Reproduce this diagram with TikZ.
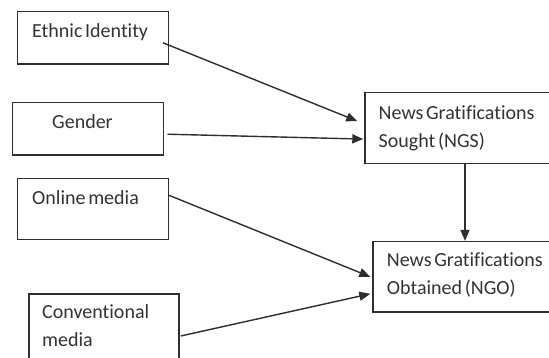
\documentclass[tikz,border=0pt]{standalone}
\usepackage{fontspec}
\setmainfont{Carlito}[WordSpace=0.6, Ligatures=NoCommon]
\usetikzlibrary{arrows.meta}
\definecolor{inkgray}{HTML}{2E2E2E}
\definecolor{textgray}{HTML}{333333}

\begin{document}
\begin{tikzpicture}[x=1pt,y=-1pt,
  box/.style={draw=inkgray, line width=1.4pt, inner sep=0pt},
  lbl/.style={text=textgray, inner sep=0pt, anchor=base west,
    font=\fontsize{20}{28}\selectfont},
  link/.style={draw=inkgray, line width=1.4pt,
    -{Triangle[length=11pt,width=9pt]}}]
  % Frame
  \useasboundingbox (0,0) rectangle (549,357);
  \clip (0,0) rectangle (549,357);

  % Boxes on the left
  \node[box, minimum width=151pt, minimum height=52.3pt] (ethnic) at (92.8,37.8) {};
  \node[box, minimum width=151pt, minimum height=52.7pt] (gender) at (87.8,128.7) {};
  \node[box, minimum width=151pt, minimum height=61pt] (online) at (92.8,208.8) {};
  \node[box, minimum width=150pt, minimum height=86pt] (conv) at (104,337) {};

  % Boxes on the right
  \node[box, minimum width=200pt, minimum height=70.8pt] (ngs) at (465,128.1) {};
  \node[box, minimum width=200pt, minimum height=70.5pt] (ngo) at (473,276.8) {};

  % Texts
  \node[lbl] (ethnictext) at (32,37.5) {Ethnic Identity};
  \node[lbl] (gendertext) at (52,128) {Gender};
  \node[lbl] (onlinetext) at (32,204) {Online media};
  \node[lbl] (convtext) at (42,318)
    {\begin{tabular}[t]{@{}l@{}}Conventional\\media\end{tabular}};
  \node[lbl] (ngstext) at (378.5,119.3)
    {\begin{tabular}[t]{@{}l@{}}News Gratifications\\Sought (NGS)\end{tabular}};
  \node[lbl] (ngotext) at (386.7,266.7)
    {\begin{tabular}[t]{@{}l@{}}News Gratifications\\Obtained (NGO)\end{tabular}};

  % Arrows
  \draw[link] ([xshift=-6pt,yshift=-5pt]ethnic.east) -- ([xshift=-7pt,yshift=7pt]ngs.west);
  \draw[link] ([xshift=3.5pt,yshift=-5.5pt]gender.east) -- ([xshift=-1pt,yshift=-11pt]ngs.west);
  \draw[link] ([yshift=13.5pt]online.east) -- ([xshift=-2pt]ngo.west);
  \draw[link] ([xshift=1pt,yshift=1pt]conv.east) -- ([xshift=-2pt,yshift=-17pt]ngo.west);
  \draw[link] (ngs.south) -- (ngs.south |- ngo.north);
\end{tikzpicture}
\end{document}
